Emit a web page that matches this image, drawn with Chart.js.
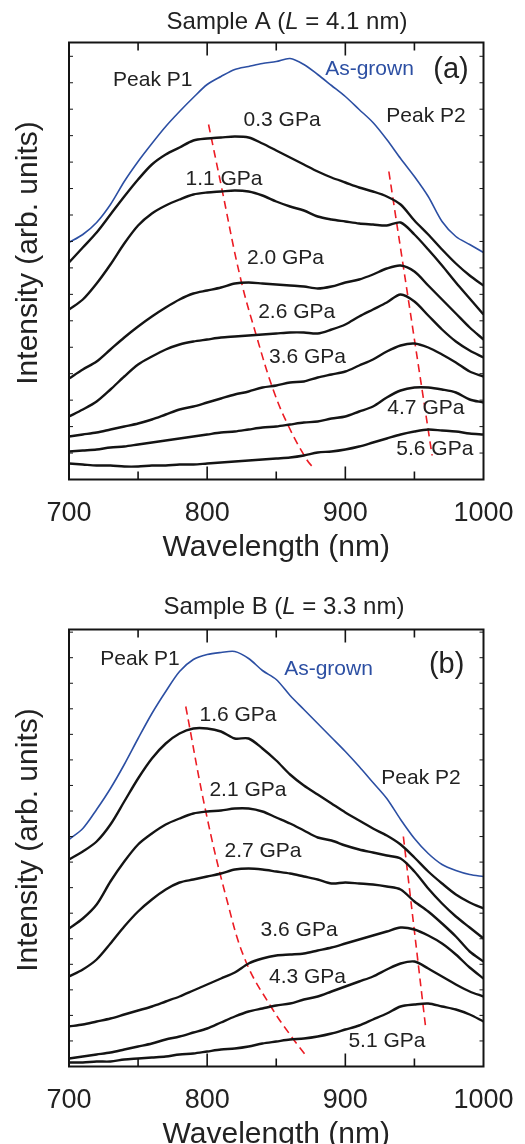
<!DOCTYPE html>
<html>
<head>
<meta charset="utf-8">
<script src="https://cdn.jsdelivr.net/npm/chart.js@4.4.1/dist/chart.umd.min.js"></script>
<style>
  html, body { margin: 0; padding: 0; background: #fff; overflow: hidden; }
  .panel { position: absolute; left: 0; width: 525px; height: 572px; }
  #wrapA { top: 0; }
  #wrapB { top: 587px; }
</style>
</head>
<body>
<div class="panel" id="wrapA"><canvas id="chartA" width="525" height="572"></canvas></div>
<div class="panel" id="wrapB"><canvas id="chartB" width="525" height="572"></canvas></div>
<script>
// wavelength grid (nm), shared by every spectrum
const wl = [700, 710, 720, 730, 740, 750, 760, 770, 780, 790, 800, 810, 820, 830, 840, 850,
            860, 870, 880, 890, 900, 910, 920, 930, 940, 950, 960, 970, 980, 990, 1000];

// sample A spectra (arb. units, offset stacked)
const asGrownA = [237, 245, 257, 275, 298, 318, 336, 353, 368, 382, 395, 403, 410, 413, 416, 418, 421, 415, 405, 394, 383, 370, 357, 340, 321, 303, 283, 258, 243, 235, 227];
const gpa03A = [217, 232, 247, 265, 283, 300, 315, 325, 332, 339, 341, 342, 343, 342, 336, 329, 322, 315, 308, 302, 297, 292, 288, 283, 275, 259, 245, 230, 216, 204, 194];
const gpa11A = [170, 180, 196, 215, 236, 254, 266, 274, 280, 285, 287, 288, 289, 288, 284, 278, 273, 269, 263, 260, 258, 256, 255, 254, 257, 245, 230, 214, 197, 181, 165];
const gpa20A = [101, 110, 118, 130, 142, 153, 163, 172, 180, 186, 189, 192, 196, 197, 196, 195, 194, 193, 191, 193, 197, 200, 205, 211, 214, 208, 194, 180, 166, 152, 140];
const gpa26A = [63, 70, 78, 90, 103, 115, 123, 130, 135, 138, 140, 142, 143, 144, 145, 146, 147, 147, 146, 150, 155, 163, 170, 177, 185, 178, 164, 150, 138, 129, 122];
const gpa36A = [43, 45, 47, 50, 53, 56, 60, 65, 70, 73, 77, 81, 85, 88, 92, 94, 97, 98, 102, 105, 108, 114, 120, 128, 134, 136, 132, 125, 117, 108, 103];
const gpa47A = [28, 29, 30, 32, 33, 35, 37, 39, 41, 43, 45, 47, 48, 50, 52, 53, 55, 57, 58, 61, 63, 68, 73, 82, 89, 92, 92, 90, 87, 80, 77];
const gpa56A = [16, 15, 14, 14, 13, 13, 14, 14, 15, 15, 16, 17, 18, 19, 20, 21, 22, 24, 27, 28, 30, 33, 37, 41, 45, 48, 50, 49, 48, 46, 45];

// sample B spectra
const asGrownB = [227, 238, 257, 278, 302, 328, 353, 375, 395, 407, 412, 414, 415, 408, 396, 387, 371, 357, 343, 329, 315, 300, 284, 268, 247, 228, 213, 202, 196, 192, 190];
const gpa16B = [207, 215, 225, 242, 265, 288, 308, 323, 333, 338, 338, 335, 328, 328, 318, 306, 292, 281, 272, 263, 254, 246, 238, 231, 222, 209, 195, 183, 172, 164, 158];
const gpa21B = [138, 148, 162, 185, 205, 222, 233, 242, 248, 253, 255, 256, 258, 258, 255, 249, 243, 236, 229, 226, 221, 217, 214, 211, 208, 195, 178, 163, 150, 139, 128];
const gpa27B = [90, 97, 107, 123, 140, 155, 167, 177, 184, 187, 190, 193, 197, 198, 197, 195, 193, 190, 187, 183, 184, 183, 182, 180, 177, 165, 155, 143, 130, 115, 105];
const gpa36B = [40, 42, 45, 48, 52, 56, 60, 65, 70, 76, 82, 88, 94, 103, 108, 111, 112, 113, 116, 119, 123, 127, 131, 135, 139, 137, 131, 123, 112, 99, 88];
const gpa43B = [8, 10, 12, 14, 17, 20, 23, 27, 30, 34, 38, 44, 50, 55, 58, 61, 63, 67, 70, 75, 80, 85, 90, 97, 103, 105, 98, 90, 82, 75, 70];
const gpa51B = [4, 4, 5, 5, 7, 8, 9, 10, 12, 13, 15, 17, 18, 20, 23, 25, 27, 28, 30, 33, 37, 41, 47, 53, 60, 62, 63, 60, 57, 52, 45];

// red guide lines following peak P1 / P2
const p1AWl = [801, 810, 824, 836, 848, 859, 872, 878];
const p1AInt = [355, 295, 202, 142, 89, 53, 20, 10];
const p2AWl = [931.5, 962.8];
const p2AInt = [308, 24];
const p1BWl = [784.5, 799, 814, 828, 847, 862, 871.5];
const p1BInt = [360, 255, 168, 105, 58, 28, 11];
const p2BWl = [942, 958.3];
const p2BInt = [230, 37];

// text labels placed in data coordinates
const labelsA = ['Peak P1', 'As-grown', '(a)', 'Peak P2', '0.3 GPa', '1.1 GPa', '2.0 GPa', '2.6 GPa', '3.6 GPa', '4.7 GPa', '5.6 GPa'];
const labelWlA = [760.6, 917.5, 976.5, 958.4, 854.2, 812.2, 856.7, 864.8, 872.6, 958.3, 964.8];
const labelIntA = [399, 410, 410, 363, 359, 300, 221, 167, 122, 71, 30];
const labelsB = ['Peak P1', 'As-grown', '(b)', '1.6 GPa', 'Peak P2', '2.1 GPa', '2.7 GPa', '3.6 GPa', '4.3 GPa', '5.1 GPa'];
const labelWlB = [751.4, 887.8, 973.3, 822.3, 954.8, 829.5, 840.4, 866.5, 872.6, 930.1];
const labelIntB = [407, 397, 402, 351, 288, 276, 215, 136, 89, 25];

const FAMILY = '"Liberation Sans", Arial, sans-serif';
const BLUE = '#2c4fa3';
const RED = '#ec1c24';
const INK = '#141414';

function curve(vals, color, width) {
  return {
    data: wl.map((w, i) => ({x: w, y: vals[i]})),
    borderColor: color,
    borderWidth: width,
    pointRadius: 0,
    tension: 0.3,
    fill: false
  };
}

function guide(xs, ys) {
  return {
    data: xs.map((x, i) => ({x: x, y: ys[i]})),
    borderColor: RED,
    borderWidth: 1.6,
    borderDash: [8, 5],
    pointRadius: 0,
    tension: 0.4,
    fill: false
  };
}

const framePlugin = {
  id: 'frame',
  afterDraw(chart, args, opts) {
    const ctx = chart.ctx;
    const a = chart.chartArea;
    const xs = chart.scales.x;
    const ys = chart.scales.y;
    ctx.save();
    ctx.strokeStyle = INK;

    // x ticks, inside, top and bottom
    ctx.lineWidth = 1.6;
    for (let w = xs.min + 50; w < xs.max; w += 50) {
      const px = xs.getPixelForValue(w);
      const len = w % 100 === 0 ? 13 : 8;
      ctx.beginPath();
      ctx.moveTo(px, a.bottom); ctx.lineTo(px, a.bottom - len);
      ctx.moveTo(px, a.top); ctx.lineTo(px, a.top + len);
      ctx.stroke();
    }
    // y ticks, small, both sides
    ctx.lineWidth = 1;
    for (let k = 1; k * opts.step < ys.max; k++) {
      const py = ys.getPixelForValue(k * opts.step);
      ctx.beginPath();
      ctx.moveTo(a.left, py); ctx.lineTo(a.left + 4, py);
      ctx.moveTo(a.right, py); ctx.lineTo(a.right - 4, py);
      ctx.stroke();
    }
    ctx.lineWidth = 2;
    ctx.strokeRect(a.left, a.top, a.right - a.left, a.bottom - a.top);

    // labels
    ctx.textAlign = 'center';
    ctx.textBaseline = 'middle';
    opts.labels.forEach((t, i) => {
      const big = t.charAt(0) === '(';
      ctx.font = (big ? 29 : 21) + 'px ' + FAMILY;
      ctx.fillStyle = t === 'As-grown' ? BLUE : '#222';
      ctx.fillText(t, xs.getPixelForValue(opts.wls[i]), ys.getPixelForValue(opts.ints[i]));
    });

    // y axis title, sits a little above the centre of the frame
    ctx.save();
    ctx.translate(29, (a.top + a.bottom) / 2 - 8);
    ctx.rotate(-Math.PI / 2);
    ctx.font = '30px ' + FAMILY;
    ctx.fillStyle = '#222';
    ctx.fillText('Intensity (arb. units)', 0, 0);
    ctx.restore();

    // panel title with italic L
    const parts = opts.title;
    const fnt = it => (it ? 'italic ' : '') + '24px ' + FAMILY;
    let total = 0;
    parts.forEach(p => { ctx.font = fnt(p[1]); total += ctx.measureText(p[0]).width; });
    let x = opts.titleX - total / 2;
    ctx.textAlign = 'left';
    ctx.fillStyle = '#222';
    parts.forEach(p => {
      ctx.font = fnt(p[1]);
      ctx.fillText(p[0], x, opts.titleY);
      x += ctx.measureText(p[0]).width;
    });
    ctx.restore();
  }
};

function makeChart(id, datasets, frameOpts) {
  return new Chart(document.getElementById(id), {
    type: 'line',
    data: {datasets: datasets},
    plugins: [framePlugin],
    options: {
      responsive: false,
      animation: false,
      layout: {padding: {top: 42.5, right: 41.5, left: 0, bottom: 0}},
      plugins: {
        legend: {display: false},
        tooltip: {enabled: false},
        frame: frameOpts
      },
      scales: {
        x: {
          type: 'linear',
          min: 700,
          max: 1000,
          grid: {display: false},
          border: {display: false},
          ticks: {
            stepSize: 50,
            autoSkip: false,
            maxRotation: 0,
            padding: 10,
            color: '#222',
            font: {size: 27, family: FAMILY},
            callback: v => (Math.round(v) % 100 === 0 ? Math.round(v) : '')
          },
          title: {
            display: true,
            text: 'Wavelength (nm)',
            color: '#222',
            font: {size: 30, family: FAMILY},
            padding: {top: 0, bottom: 6}
          },
          afterFit: s => { s.height = 92.5; }
        },
        y: {
          min: 0,
          max: 437,
          grid: {display: false},
          border: {display: false},
          ticks: {display: false},
          title: {display: false},
          afterFit: s => { s.width = 69; }
        }
      }
    }
  });
}

makeChart('chartA', [
  curve(gpa03A, INK, 2.4),
  curve(gpa11A, INK, 2.4),
  curve(gpa20A, INK, 2.4),
  curve(gpa26A, INK, 2.4),
  curve(gpa36A, INK, 2.4),
  curve(gpa47A, INK, 2.4),
  curve(gpa56A, INK, 2.4),
  curve(asGrownA, BLUE, 1.6),
  guide(p1AWl, p1AInt),
  guide(p2AWl, p2AInt)
], {
  step: 26.45,
  labels: labelsA, wls: labelWlA, ints: labelIntA,
  title: [['Sample A (', false], ['L', true], [' = 4.1 nm)', false]],
  titleX: 287, titleY: 22
});

makeChart('chartB', [
  curve(gpa16B, INK, 2.4),
  curve(gpa21B, INK, 2.4),
  curve(gpa27B, INK, 2.4),
  curve(gpa36B, INK, 2.4),
  curve(gpa43B, INK, 2.4),
  curve(gpa51B, INK, 2.4),
  curve(asGrownB, BLUE, 1.6),
  guide(p1BWl, p1BInt),
  guide(p2BWl, p2BInt)
], {
  step: 25.55,
  labels: labelsB, wls: labelWlB, ints: labelIntB,
  title: [['Sample B (', false], ['L', true], [' = 3.3 nm)', false]],
  titleX: 284, titleY: 20
});
</script>
</body>
</html>
